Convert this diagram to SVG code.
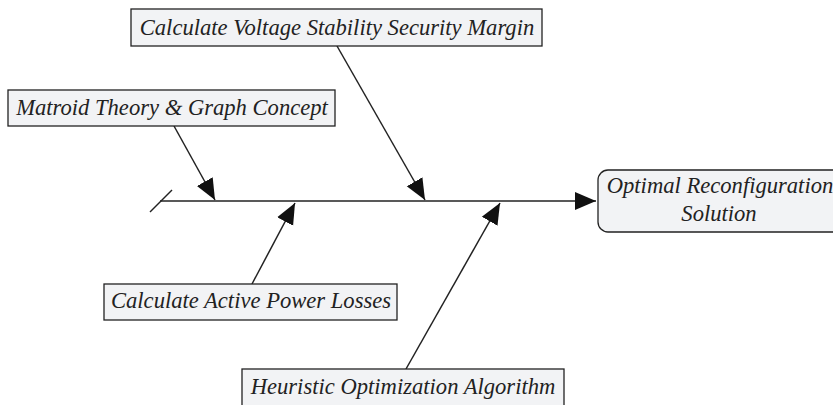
<svg xmlns="http://www.w3.org/2000/svg" width="833" height="405" viewBox="0 0 833 405">
<defs>
<style>
.box{fill:#f2f3f5;stroke:#222;stroke-width:1.3}
.t{font-family:"Liberation Serif","Times New Roman",serif;font-style:italic;font-size:22.6px;fill:#222}
.ln{stroke:#222;stroke-width:1.5;fill:none}
</style>
<marker id="ah" markerUnits="userSpaceOnUse" markerWidth="22" markerHeight="20" viewBox="0 0 22 20" refX="21" refY="10" orient="auto">
<path d="M0,1 L21,10 L0,19 Z" fill="#111"/>
</marker>
</defs>
<rect width="833" height="405" fill="#fff"/>
<g id="connectors">
<line class="ln" x1="160" y1="201" x2="596" y2="201" marker-end="url(#ah)"/>
<line class="ln" x1="150" y1="212" x2="172" y2="190"/>
<line class="ln" x1="174" y1="126" x2="215" y2="200" marker-end="url(#ah)"/>
<line class="ln" x1="337" y1="46" x2="425" y2="200" marker-end="url(#ah)"/>
<line class="ln" x1="252" y1="284" x2="295" y2="203" marker-end="url(#ah)"/>
<line class="ln" x1="406" y1="369" x2="500" y2="203" marker-end="url(#ah)"/>
</g>
<g id="voltage">
<rect class="box" x="131" y="9" width="411" height="37"/>
<text class="t" x="337" y="35" text-anchor="middle">Calculate Voltage Stability Security Margin</text>
</g>
<g id="matroid">
<rect class="box" x="8" y="90" width="327" height="36"/>
<text class="t" x="172" y="115" text-anchor="middle">Matroid Theory &amp; Graph Concept</text>
</g>
<g id="active">
<rect class="box" x="104" y="284" width="293" height="36"/>
<text class="t" x="251" y="308" text-anchor="middle">Calculate Active Power Losses</text>
</g>
<g id="heuristic">
<rect class="box" x="242" y="369" width="322" height="40"/>
<text class="t" x="403" y="394" text-anchor="middle">Heuristic Optimization Algorithm</text>
</g>
<g id="output">
<rect class="box" x="598" y="170" width="250" height="62" rx="10" ry="10"/>
<text class="t" x="720" y="193" text-anchor="middle">Optimal Reconfiguration</text>
<text class="t" x="719" y="221" text-anchor="middle">Solution</text>
</g>
</svg>
